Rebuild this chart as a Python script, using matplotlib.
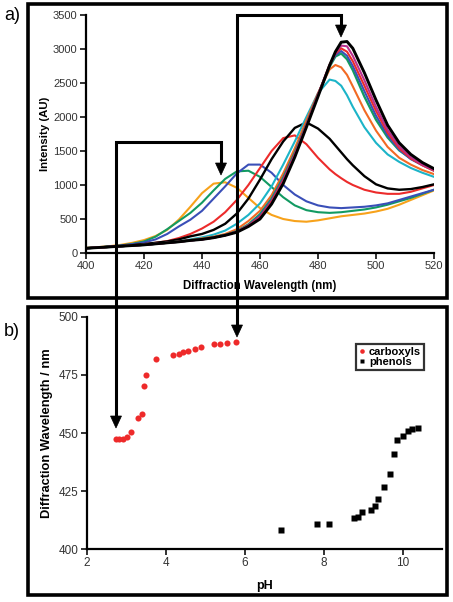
import numpy as np
import matplotlib
matplotlib.use("Agg")
import matplotlib.pyplot as plt
from matplotlib.lines import Line2D
from matplotlib.patches import Rectangle, Polygon

plt.rcParams['font.family'] = ['Liberation Sans', 'DejaVu Sans']

# ---- panel a) spectra ----
wl = [400, 404, 408, 412, 416, 420, 424, 428, 432, 436, 440, 444, 448, 452, 456,
      460, 464, 468, 472, 476, 480, 484, 486, 488, 490, 492, 496, 500, 504, 508, 512, 516, 520]

spec_orange_s = [75, 85, 100, 120, 150, 190, 250, 340, 490, 680, 880, 1020, 1040, 960, 810,
                 660, 560, 500, 470, 460, 480, 510, 525, 540, 550, 560, 580, 610, 650, 710, 780, 850, 920]
spec_green_s = [70, 80, 95, 110, 135, 170, 240, 350, 470, 590, 740, 920, 1090, 1200, 1210,
                1120, 970, 820, 700, 630, 600, 590, 595, 600, 610, 620, 640, 670, 710, 760, 810, 870, 930]
spec_blue_s = [70, 80, 95, 110, 130, 155, 200, 280, 390, 490, 620, 800, 980, 1170, 1300,
               1300, 1180, 1000, 860, 760, 700, 670, 665, 660, 665, 670, 680, 700, 730, 780, 830, 880, 930]
spec_red_s = [70, 80, 90, 100, 115, 130, 150, 175, 220, 280, 360, 460, 600, 780, 1000,
              1250, 1500, 1690, 1730, 1600, 1400, 1230, 1160, 1100, 1045, 1000, 930, 890, 870, 870, 900, 950, 1000]
spec_black_s = [70, 80, 90, 100, 115, 130, 150, 170, 200, 245, 280, 340, 430, 580, 800,
                1080, 1380, 1640, 1840, 1920, 1830, 1680, 1580, 1480, 1380, 1290, 1130, 1010, 950, 930, 940, 970, 1010]
spec_cyan = [70, 80, 90, 100, 110, 120, 135, 150, 170, 200, 230, 270, 330, 430, 560,
             730, 980, 1300, 1640, 2000, 2350, 2550, 2530, 2460, 2320, 2150, 1850, 1620, 1450, 1340, 1250, 1180, 1120]
spec_orange = [70, 80, 90, 100, 110, 120, 135, 150, 170, 190, 215, 240, 280, 350, 470,
               620, 850, 1170, 1540, 1950, 2350, 2700, 2765, 2730, 2620, 2450, 2100, 1800, 1560, 1400, 1300, 1220, 1160]
spec_green = [70, 80, 90, 100, 110, 120, 135, 150, 165, 185, 205, 230, 265, 320, 420,
              570, 800, 1110, 1480, 1890, 2330, 2740, 2890, 2935, 2850, 2690, 2300, 1960, 1700, 1510, 1390, 1300, 1220]
spec_blue = [70, 80, 90, 100, 110, 120, 135, 150, 165, 185, 200, 228, 262, 315, 410,
             550, 780, 1090, 1460, 1890, 2330, 2760, 2910, 2970, 2900, 2750, 2380, 2020, 1730, 1520, 1380, 1290, 1210]
spec_red = [70, 80, 90, 100, 110, 120, 135, 150, 165, 185, 200, 226, 261, 312, 405,
            530, 760, 1070, 1450, 1880, 2330, 2770, 2930, 3010, 2960, 2820, 2460, 2090, 1770, 1540, 1390, 1290, 1210]
spec_magenta = [70, 80, 90, 100, 110, 120, 135, 150, 165, 185, 200, 225, 260, 310, 400,
                515, 740, 1050, 1440, 1870, 2320, 2760, 2940, 3050, 3040, 2900, 2540, 2150, 1810, 1570, 1410, 1300, 1220]
spec_black = [70, 80, 90, 100, 110, 120, 135, 150, 165, 185, 200, 225, 260, 305, 390,
              500, 720, 1020, 1410, 1850, 2300, 2760, 2960, 3100, 3110, 3010, 2650, 2250, 1880, 1620, 1450, 1330, 1240]

spectra = [
    (spec_orange_s, '#f7a21b', 1.5),
    (spec_green_s, '#129a62', 1.5),
    (spec_blue_s, '#3a4fb8', 1.5),
    (spec_red_s, '#ec2b2b', 1.5),
    (spec_black_s, '#000000', 1.7),
    (spec_cyan, '#1cb4c8', 1.5),
    (spec_orange, '#f26a24', 1.5),
    (spec_green, '#129a62', 1.7),
    (spec_blue, '#3a4fb8', 1.5),
    (spec_red, '#ec2b2b', 1.5),
    (spec_magenta, '#b8308e', 1.5),
    (spec_black, '#000000', 2.1),
]

# ---- panel b) peak position vs pH ----
ph_carb = [2.74, 2.82, 2.92, 3.01, 3.11, 3.30, 3.39, 3.45, 3.50, 3.75, 4.17, 4.32,
           4.44, 4.56, 4.74, 4.89, 5.22, 5.36, 5.56, 5.77]
wl_carb = [447.5, 447.5, 447.6, 448.1, 450.6, 456.3, 458.2, 470.4, 474.9, 481.8, 483.6, 484.0,
           484.9, 485.5, 486.3, 486.9, 488.2, 488.4, 488.9, 489.1]
ph_phen = [6.92, 7.83, 8.14, 8.76, 8.86, 8.97, 9.20, 9.29, 9.39, 9.52, 9.67, 9.79, 9.86,
           10.00, 10.13, 10.24, 10.38]
wl_phen = [408.2, 410.8, 410.8, 413.2, 413.9, 416.1, 416.8, 418.5, 421.7, 426.6, 432.3, 440.8, 447.0,
           448.9, 450.9, 451.6, 452.0]

W, H = 453, 602
fig = plt.figure(figsize=(W / 100, H / 100), dpi=100)


def fx(px):
    return px / W


def fy(py):
    return 1 - py / H


def style_axes(ax, fs):
    for s in ['top', 'right']:
        ax.spines[s].set_visible(False)
    for s in ['left', 'bottom']:
        ax.spines[s].set_linewidth(1.6)
        ax.spines[s].set_color('black')
    ax.tick_params(direction='out', length=4, width=1.3, labelsize=fs, colors='#222222', pad=2)
    for lab in ax.get_xticklabels() + ax.get_yticklabels():
        lab.set_color('#333333')


# panel a
ax1 = fig.add_axes([fx(86), fy(253), fx(434) - fx(86), fy(15) - fy(253)])
for ys, c, lw in spectra:
    ax1.plot(wl, ys, color=c, lw=lw)
ax1.set_xlim(400, 520)
ax1.set_ylim(0, 3500)
ax1.set_xticks(np.arange(400, 521, 20))
ax1.set_yticks(np.arange(0, 3501, 500))
style_axes(ax1, 8)
ax1.set_xlabel('Diffraction Wavelength (nm)', fontsize=8.3, fontweight='bold', labelpad=6)
ax1.set_ylabel('Intensity (AU)', fontsize=8.2, fontweight='bold', labelpad=2)

# panel b
ax2 = fig.add_axes([fx(87), fy(549), fx(442) - fx(87), fy(317) - fy(549)])
ax2.plot(ph_carb, wl_carb, 'o', color='#ee2a2a', ms=4.4, mec='none', label='carboxyls')
ax2.plot(ph_phen, wl_phen, 's', color='black', ms=4.4, mec='none', label='phenols')
ax2.set_xlim(2, 11)
ax2.set_ylim(400, 500)
ax2.set_xticks([2, 4, 6, 8, 10])
ax2.set_yticks([400, 425, 450, 475, 500])
style_axes(ax2, 8.5)
ax2.set_xlabel('pH', fontsize=9, fontweight='bold', labelpad=8)
ax2.set_ylabel('Diffraction Wavelength / nm', fontsize=9.3, fontweight='bold', labelpad=4)
leg = ax2.legend(loc='upper left', bbox_to_anchor=(fx(350), fy(338)), bbox_transform=fig.transFigure,
                 frameon=True, fancybox=False, handlelength=0.6, handletextpad=0.3,
                 borderpad=0.3, labelspacing=0.0, markerscale=0.75, prop={'weight': 'bold', 'size': 8})
leg.get_frame().set_edgecolor('black')
leg.get_frame().set_linewidth(1.6)

# outer frames
for (x0, y0, x1, y1) in [(28, 4, 447, 298), (28, 307, 447, 595)]:
    fig.add_artist(Rectangle((fx(x0), fy(y1)), fx(x1) - fx(x0), fy(y0) - fy(y1),
                             fill=False, lw=2.6, ec='black', transform=fig.transFigure))

fig.text(fx(4), fy(16), 'a)', fontsize=13, va='center', ha='left')
fig.text(fx(4), fy(331), 'b)', fontsize=13, va='center', ha='left')


# bracket arrows linking the two panels
def head(x, y):
    pts = [(fx(x), fy(y)), (fx(x - 5.5), fy(y - 12)), (fx(x + 5.5), fy(y - 12))]
    fig.add_artist(Polygon(pts, closed=True, fc='black', ec='black', lw=0.5,
                           transform=fig.transFigure, zorder=10))


def bracket(xa, tip_a, xb, tip_b, ytop):
    xs = [fx(xb), fx(xb), fx(xa), fx(xa)]
    ys = [fy(tip_b - 10), fy(ytop), fy(ytop), fy(tip_a - 10)]
    fig.add_artist(Line2D(xs, ys, color='black', lw=2.2, transform=fig.transFigure,
                          zorder=10, solid_joinstyle='miter'))
    head(xa, tip_a)
    head(xb, tip_b)


bracket(221, 175, 116, 428, 142)
bracket(341, 37, 237, 337, 15)

fig.savefig('out.png', dpi=100)
